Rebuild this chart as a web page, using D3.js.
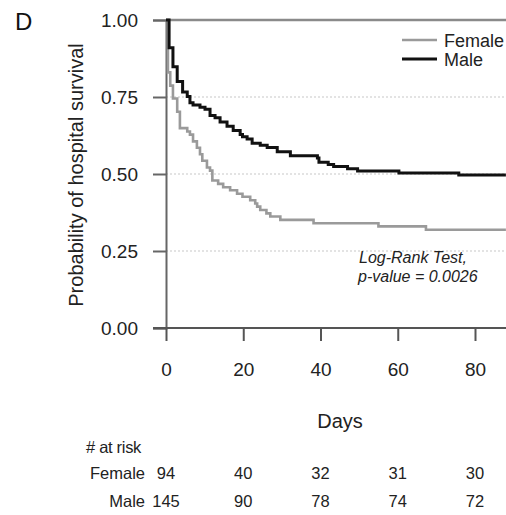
<!DOCTYPE html>
<html>
<head>
<meta charset="utf-8">
<script src="https://cdn.jsdelivr.net/npm/d3@7"></script>
<style>
  html, body { margin: 0; padding: 0; background: #fff; }
  svg { display: block; font-family: "Liberation Sans", Arial, sans-serif; }
</style>
</head>
<body>
<svg id="chart" width="506" height="515"></svg>
<script>
// Kaplan–Meier step curves: event day and survival after that day
const femaleDays = [0, 0.5, 1.1, 1.8, 2.9, 3.6, 5.5, 6.2, 7.0, 8.0, 8.8, 9.4, 10.6, 11.4, 12.0, 13.5, 14.8, 16.6, 18.4, 19.8, 21.8, 23.1, 23.6, 24.4, 26.0, 27.0, 29.6, 38.2, 55.0, 67.3];
const femaleSurv = [1.0, 0.830, 0.787, 0.745, 0.702, 0.649, 0.638, 0.628, 0.606, 0.585, 0.564, 0.543, 0.521, 0.511, 0.479, 0.468, 0.457, 0.447, 0.436, 0.426, 0.415, 0.404, 0.394, 0.383, 0.372, 0.362, 0.351, 0.340, 0.330, 0.319];

const maleDays = [0, 0.8, 1.8, 2.9, 4.3, 5.5, 6.2, 7.0, 8.8, 10.1, 11.4, 12.7, 14.0, 15.8, 17.4, 19.2, 19.8, 21.0, 22.3, 24.4, 26.2, 28.8, 32.2, 39.2, 39.6, 42.0, 43.4, 47.0, 49.6, 60.3, 75.8];
const maleSurv = [1.0, 0.910, 0.848, 0.800, 0.766, 0.752, 0.731, 0.724, 0.717, 0.710, 0.690, 0.683, 0.669, 0.655, 0.641, 0.628, 0.621, 0.614, 0.600, 0.593, 0.586, 0.572, 0.559, 0.552, 0.538, 0.531, 0.524, 0.517, 0.510, 0.503, 0.497];

const lastDay = 88;

const xTicks = [0, 20, 40, 60, 80];
const yTicks = [0, 0.25, 0.5, 0.75, 1.0];
const gridTicks = [0.25, 0.5, 0.75];

const riskGroups = ["Female", "Male"];
const riskFemale = [94, 40, 32, 31, 30];
const riskMale = [145, 90, 78, 74, 72];

const svg = d3.select("#chart");

const x = d3.scaleLinear().domain([0, lastDay]).range([166, 166 + lastDay * 3.8625]);
const y = d3.scaleLinear().domain([0, 1]).range([328, 20]);

const textColor = "#222";
const fontFamily = "Liberation Sans, Arial, sans-serif";

// panel letter
svg.append("text")
  .attr("x", 15).attr("y", 30)
  .attr("font-size", 24)
  .attr("fill", "#111")
  .text("D");

// dotted reference lines
svg.append("g").selectAll("line")
  .data(gridTicks)
  .join("line")
  .attr("x1", x(0)).attr("x2", 506)
  .attr("y1", d => y(d)).attr("y2", d => y(d))
  .attr("stroke", "#c8c8c8")
  .attr("stroke-width", 1.2)
  .attr("stroke-dasharray", "2,2");

// top frame line at 1.00
svg.append("line")
  .attr("x1", x(0)).attr("x2", 506)
  .attr("y1", y(1)).attr("y2", y(1))
  .attr("stroke", "#8a8a8a")
  .attr("stroke-width", 2.5);

// y axis
const yAxis = svg.append("g")
  .attr("transform", `translate(${x(0)},0)`)
  .call(d3.axisLeft(y).tickValues(yTicks).tickFormat(d3.format(".2f")).tickSize(13).tickPadding(15));
yAxis.select(".domain").attr("stroke", "#666").attr("stroke-width", 2);
yAxis.selectAll(".tick line").attr("stroke", "#666").attr("stroke-width", 2);
yAxis.selectAll(".tick text").attr("font-size", 19).attr("fill", textColor).attr("font-family", fontFamily);

// x axis
const xAxis = svg.append("g")
  .attr("transform", `translate(0,${y(0)})`)
  .call(d3.axisBottom(x).tickValues(xTicks).tickFormat(d3.format("d")).tickSize(13).tickSizeOuter(0).tickPadding(22));
xAxis.select(".domain").attr("stroke", "#555").attr("stroke-width", 2)
  .attr("d", `M${x(0) - 13},0H506`);
xAxis.selectAll(".tick line").attr("stroke", "#555").attr("stroke-width", 2);
xAxis.selectAll(".tick text").attr("font-size", 19).attr("fill", textColor).attr("font-family", fontFamily);

// axis titles
svg.append("text")
  .attr("transform", `translate(83,${(y(0) + y(1)) / 2 + 1}) rotate(-90)`)
  .attr("text-anchor", "middle")
  .attr("font-size", 20)
  .attr("fill", textColor)
  .text("Probability of hospital survival");

svg.append("text")
  .attr("x", 340).attr("y", 428)
  .attr("text-anchor", "middle")
  .attr("font-size", 20)
  .attr("fill", textColor)
  .text("Days");

// survival curves
const stepLine = d3.line()
  .x(d => x(d[0]))
  .y(d => y(d[1]))
  .curve(d3.curveStepAfter);

function curvePoints(days, surv) {
  const pts = days.map((d, i) => [d, surv[i]]);
  pts.push([lastDay, surv[surv.length - 1]]);
  return pts;
}

svg.append("path")
  .datum(curvePoints(femaleDays, femaleSurv))
  .attr("fill", "none")
  .attr("stroke", "#9a9a9a")
  .attr("stroke-width", 2.6)
  .attr("d", stepLine);

svg.append("path")
  .datum(curvePoints(maleDays, maleSurv))
  .attr("fill", "none")
  .attr("stroke", "#111")
  .attr("stroke-width", 3)
  .attr("d", stepLine);

// legend
const legend = svg.append("g");
const legendItems = [
  { label: "Female", color: "#9a9a9a", width: 2.4, y: 40 },
  { label: "Male", color: "#111", width: 3, y: 59 }
];
legend.selectAll("line")
  .data(legendItems)
  .join("line")
  .attr("x1", 402).attr("x2", 437)
  .attr("y1", d => d.y).attr("y2", d => d.y)
  .attr("stroke", d => d.color)
  .attr("stroke-width", d => d.width);
legend.selectAll("text")
  .data(legendItems)
  .join("text")
  .attr("x", 444).attr("y", d => d.y + 6.5)
  .attr("font-size", 18)
  .attr("fill", textColor)
  .text(d => d.label);

// test annotation
svg.append("text")
  .attr("x", 359).attr("y", 263)
  .attr("font-size", 16)
  .attr("font-style", "italic")
  .attr("fill", textColor)
  .text("Log-Rank Test,");
svg.append("text")
  .attr("x", 358).attr("y", 282)
  .attr("font-size", 16)
  .attr("font-style", "italic")
  .attr("fill", textColor)
  .text("p-value = 0.0026");

// number-at-risk table
svg.append("text")
  .attr("x", 86).attr("y", 453)
  .attr("font-size", 16.5)
  .attr("letter-spacing", -0.3)
  .attr("fill", textColor)
  .text("# at risk");

const riskRows = [riskFemale, riskMale];
const rowY = [479, 507];
riskGroups.forEach((g, i) => {
  svg.append("text")
    .attr("x", 145).attr("y", rowY[i])
    .attr("text-anchor", "end")
    .attr("font-size", 16.5)
    .attr("fill", textColor)
    .text(g);
  svg.append("g").selectAll("text")
    .data(riskRows[i])
    .join("text")
    .attr("x", (d, j) => x(xTicks[j]))
    .attr("y", rowY[i])
    .attr("text-anchor", "middle")
    .attr("font-size", 16.5)
    .attr("fill", textColor)
    .text(d => d);
});
</script>
</body>
</html>
